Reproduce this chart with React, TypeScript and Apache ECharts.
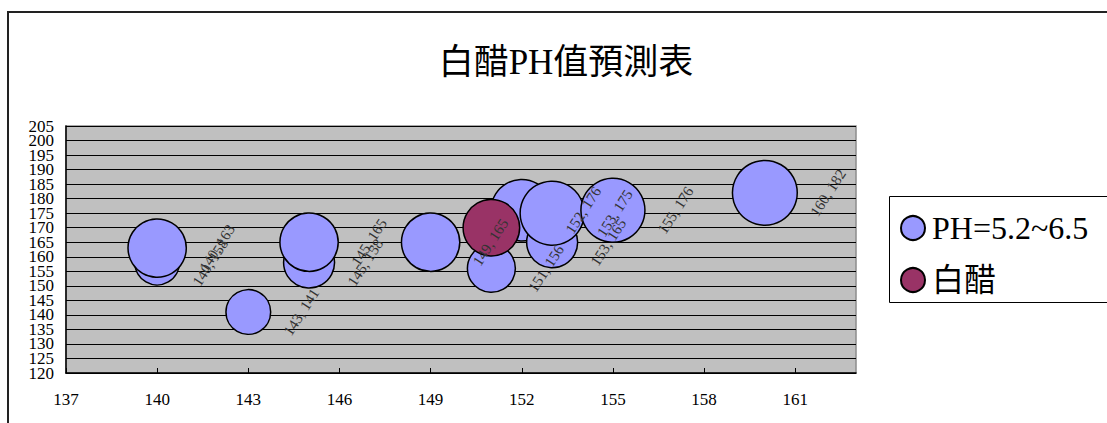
import React, { useEffect, useRef } from "react";
import * as echarts from "echarts";

const titleText = "白醋PH值預測表";
const seriesNames = ["PH=5.2~6.5", "白醋"];

// PH=5.2~6.5 series
const phX = [140, 140, 143, 145, 145, 149, 151, 152, 153, 153, 155, 160];
const phY = [158, 163, 141, 158, 165, 165, 156, 176, 165, 175, 176, 182];
const phBubble = [20, 34, 20, 26, 34, 34, 23, 38, 26, 41, 41, 42];

// 白醋 series
const vinegarX = [151];
const vinegarY = [170];
const vinegarBubble = [32];

const xTickValues = [137, 140, 143, 146, 149, 152, 155, 158, 161];
// y tick labels split into two interleaved sets so ECharts' overlap pruning keeps them all
const yLabelsA = [120, 130, 140, 150, 160, 170, 180, 190, 200];
const yLabelsB = [125, 135, 145, 155, 165, 175, 185, 195, 205];
const xMin = 137;
const xMax = 163;
const yMin = 120;
const yMax = 205;
const yStep = 5;

const serif = "'Liberation Serif', 'Noto Sans CJK TC', serif";

export default function App() {
  const ref = useRef<HTMLDivElement>(null);

  useEffect(() => {
    if (!ref.current) return;
    const chart = echarts.init(ref.current, undefined, { renderer: "svg" });

    const phData = phX.map((x, i) => [x, phY[i], phBubble[i]]);
    const vinegarData = vinegarX.map((x, i) => [x, vinegarY[i], vinegarBubble[i]]);
    const sizeFn = (v: number[]) => Math.sqrt(v[2]) * 10;

    const yLabelStyle = {
      fontSize: 17,
      lineHeight: 13,
      fontFamily: serif,
      color: "#000000",
      margin: 12,
      showMinLabel: true,
      showMaxLabel: true,
    };

    chart.setOption({
      animation: false,
      backgroundColor: "#ffffff",
      textStyle: { fontFamily: serif },
      graphic: [
        {
          type: "rect",
          shape: { x: 8, y: 12, width: 1200, height: 500 },
          style: { fill: "none", stroke: "#222222", lineWidth: 2 },
          silent: true,
          z: -10,
        },
        {
          type: "text",
          x: 566,
          y: 62,
          style: {
            text: titleText,
            fontSize: 35,
            fontFamily: serif,
            fill: "#000000",
            align: "center",
            verticalAlign: "middle",
          },
        },
        {
          type: "rect",
          shape: { x: 889.5, y: 196.5, width: 240, height: 106 },
          style: { fill: "#ffffff", stroke: "#000000", lineWidth: 1 },
          z: -5,
        },
      ],
      legend: {
        orient: "vertical",
        left: 900,
        top: 210,
        padding: 0,
        itemWidth: 24,
        itemHeight: 24,
        itemGap: 16,
        icon: "circle",
        data: seriesNames,
        textStyle: {
          fontSize: 32,
          fontFamily: serif,
          color: "#000000",
          lineHeight: 36,
          padding: [0, 0, 0, 2],
        },
      },
      grid: {
        left: 66,
        top: 126,
        width: 790,
        height: 247,
        show: true,
        backgroundColor: "#C0C0C0",
        borderColor: "#8c8c8c",
        borderWidth: 1.5,
      },
      xAxis: {
        type: "value",
        min: xMin,
        max: xMax,
        axisLine: { show: true, onZero: false, lineStyle: { color: "#000000", width: 1.5 } },
        axisTick: {
          show: true,
          inside: true,
          length: 5,
          customValues: xTickValues,
          lineStyle: { color: "#000000" },
        },
        axisLabel: {
          customValues: xTickValues,
          fontSize: 17,
          fontFamily: serif,
          color: "#000000",
          margin: 18,
        },
        splitLine: { show: false },
      },
      yAxis: [
        {
          type: "value",
          position: "left",
          min: yMin,
          max: yMax,
          interval: yStep,
          axisLine: { show: true, onZero: false, lineStyle: { color: "#000000", width: 1.5 } },
          axisTick: { show: true, inside: true, length: 6, lineStyle: { color: "#000000" } },
          axisLabel: { ...yLabelStyle, customValues: yLabelsA },
          splitLine: { show: true, lineStyle: { color: "#000000", width: 1 } },
        },
        {
          type: "value",
          position: "left",
          offset: 0,
          min: yMin,
          max: yMax,
          interval: yStep,
          axisLine: { show: false },
          axisTick: { show: false },
          axisLabel: { ...yLabelStyle, customValues: yLabelsB },
          splitLine: { show: false },
        },
      ],
      series: [
        {
          name: seriesNames[0],
          type: "scatter",
          yAxisIndex: 0,
          data: phData,
          symbol: "circle",
          symbolSize: sizeFn,
          itemStyle: { color: "#9999FF", borderColor: "#000000", borderWidth: 1.5, opacity: 1 },
          label: {
            show: true,
            position: "right",
            distance: 30,
            align: "center",
            verticalAlign: "middle",
            rotate: 57,
            fontSize: 15,
            fontFamily: serif,
            color: "#333333",
            formatter: (p: any) => `${p.value[0]}, ${p.value[1]}`,
          },
          emphasis: { disabled: true },
        },
        {
          name: seriesNames[1],
          type: "scatter",
          yAxisIndex: 0,
          data: vinegarData,
          symbol: "circle",
          symbolSize: sizeFn,
          itemStyle: { color: "#993366", borderColor: "#000000", borderWidth: 1.5, opacity: 1 },
          label: { show: false },
          emphasis: { disabled: true },
        },
      ],
    });

    return () => chart.dispose();
  }, []);

  return (
    <div
      ref={ref}
      style={{ position: "fixed", left: 0, top: 0, width: 1107, height: 423 }}
    />
  );
}
